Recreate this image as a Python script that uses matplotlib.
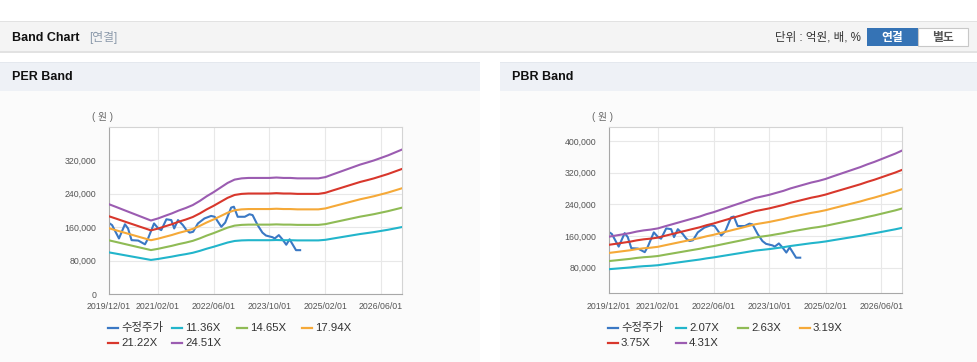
import pandas as pd
import matplotlib
matplotlib.use('Agg')
import matplotlib.pyplot as plt
from matplotlib.patches import Rectangle
from matplotlib.lines import Line2D
from matplotlib.ticker import FuncFormatter

plt.rcParams['font.family'] = ['Liberation Sans', 'Noto Sans CJK KR']

W, H = 978, 362

# band sample dates (every 2 months) and per-share values
band_dates = pd.date_range('2019-12-01', '2026-12-01', freq='2MS')
eps = [8772, 8507, 8242, 7976, 7711, 7446, 7181, 7385, 7630, 7874,
       8160, 8405, 8690, 9098, 9547, 9955, 10404, 10853, 11179, 11301,
       11342, 11342, 11342, 11342, 11383, 11342, 11342, 11301, 11301, 11301,
       11301, 11424, 11669, 11913, 12158, 12403, 12648, 12852, 13056, 13301,
       13546, 13831, 14117]
bps = [36660, 37350, 38050, 38750, 39680, 40370, 40840, 41530, 42690, 43850,
       45010, 46170, 47330, 48490, 49880, 51040, 52440, 53830, 55220, 56610,
       58000, 59400, 60320, 61250, 62410, 63570, 64970, 66130, 67290, 68450,
       69370, 70530, 71930, 73320, 74710, 76100, 77490, 79120, 80510, 82130,
       83760, 85380, 87240]
per_multiples = [11.36, 14.65, 17.94, 21.22, 24.51]
pbr_multiples = [2.07, 2.63, 3.19, 3.75, 4.31]
per_labels = ['11.36X', '14.65X', '17.94X', '21.22X', '24.51X']
pbr_labels = ['2.07X', '2.63X', '3.19X', '3.75X', '4.31X']

# adjusted price (수정주가)
price_dates = ['2019-12-01', '2019-12-28', '2020-02-26', '2020-04-18', '2020-05-15',
               '2020-06-15', '2020-08-12', '2020-10-10', '2020-11-06', '2020-12-28',
               '2021-02-03', '2021-03-01', '2021-04-15', '2021-05-28', '2021-06-22',
               '2021-07-25', '2021-09-06', '2021-10-07', '2021-11-04', '2021-12-04',
               '2022-01-15', '2022-03-13', '2022-05-10', '2022-06-10', '2022-08-07',
               '2022-09-10', '2022-11-01', '2022-11-25', '2022-12-28', '2023-02-28',
               '2023-04-10', '2023-05-07', '2023-06-20', '2023-08-01', '2023-09-01',
               '2023-10-28', '2023-11-16', '2023-12-22', '2024-01-22', '2024-02-25',
               '2024-03-25', '2024-05-20', '2024-06-25']
price_values = [170000, 165000, 133000, 167000, 157000,
                129000, 128000, 119000, 133000, 169000,
                157000, 153000, 179000, 177000, 157000,
                177000, 165000, 153000, 147000, 149000,
                169000, 181000, 187000, 185000, 161000,
                171000, 207000, 209000, 185000, 185000,
                191000, 189000, 165000, 147000, 140000,
                136000, 133000, 141000, 131000, 118000,
                131000, 105000, 105000]

xtick_dates = ['2019-12-01', '2021-02-01', '2022-06-01', '2023-10-01', '2025-02-01', '2026-06-01']
xtick_labels = ['2019/12/01', '2021/02/01', '2022/06/01', '2023/10/01', '2025/02/01', '2026/06/01']

price_color = '#3a78c4'
band_colors = ['#22b5cb', '#8fbb55', '#f5a938', '#d8372c', '#9b5cb1']


def fx(px):
    return px / W


def fy(py):
    return 1 - py / H


def box(fig, x0, y0, x1, y1, color, edge='none', lw=0):
    # background blocks sit under the chart axes
    fig.add_artist(Rectangle((fx(x0), fy(y1)), (x1 - x0) / W, (y1 - y0) / H,
                             transform=fig.transFigure, facecolor=color,
                             edgecolor=edge, linewidth=lw, zorder=-5))


def draw_band(fig, rect, per_share, multiples, labels, ylim, yticks, legend_x):
    ax = fig.add_axes(rect)
    ax.set_zorder(5)
    ax.set_facecolor('white')
    ax.plot(pd.to_datetime(price_dates), price_values, color=price_color, lw=1.5, zorder=2)
    for m, c in zip(multiples, band_colors):
        ax.plot(band_dates, [v * m for v in per_share], color=c, lw=1.5, zorder=3)

    ax.set_xlim(pd.Timestamp('2019-12-01'), pd.Timestamp('2026-12-01'))
    ax.set_ylim(*ylim)
    ax.set_xticks(pd.to_datetime(xtick_dates))
    ax.set_xticklabels(xtick_labels)
    ax.set_yticks(yticks)
    ax.yaxis.set_major_formatter(FuncFormatter(lambda v, p: f'{v:,.0f}'))
    ax.tick_params(length=0, labelsize=6.3, colors='#555555')
    ax.tick_params(axis='y', pad=9)
    ax.tick_params(axis='x', pad=6)
    ax.grid(True, color='#e8e8e8', lw=0.8)
    ax.set_axisbelow(True)
    for s in ['left', 'bottom']:
        ax.spines[s].set_color('#a8a8a8')
    for s in ['top', 'right']:
        ax.spines[s].set_color('#d4d4d4')

    # unit label
    fig.text(fx(legend_x[0] - 5), fy(117), '( 원 )', fontsize=7, color='#666666',
             ha='center', va='center')

    # legend, laid out like the original (4 per row)
    names = ['수정주가'] + labels
    colors = [price_color] + band_colors
    for i, (name, c) in enumerate(zip(names, colors)):
        col, row = i % 4, i // 4
        x = legend_x[col]
        y = [328, 343][row]
        fig.add_artist(Line2D([fx(x), fx(x + 10)], [fy(y), fy(y)], transform=fig.transFigure,
                              color=c, lw=1.6))
        fig.text(fx(x + 13), fy(y), name, fontsize=8.2, color='#333333', va='center', ha='left')
    return ax


fig = plt.figure(figsize=(W / 100, H / 100), dpi=100)
fig.patch.set_facecolor('white')

# top toolbar
box(fig, 0, 21, W, 53, '#e2e2e2')
box(fig, 0, 22, W, 51, '#f4f4f4')
fig.text(fx(12), fy(38), 'Band Chart', fontsize=9, fontweight='bold', color='#111111', va='center')
fig.text(fx(89), fy(38), '[연결]', fontsize=8.5, color='#8c9aab', va='center')
fig.text(fx(861), fy(38), '단위 : 억원, 배, %', fontsize=8.3, color='#333333', va='center', ha='right')
box(fig, 867, 28, 918, 46, '#3573b5')
box(fig, 918, 28, 968, 46, 'white', edge='#c8c8c8', lw=0.8)
fig.text(fx(892.5), fy(37.5), '연결', fontsize=8.5, fontweight='bold', color='white', va='center', ha='center')
fig.text(fx(943), fy(37.5), '별도', fontsize=8.5, fontweight='bold', color='#555555', va='center', ha='center')

# panels
for x0, x1, title in [(0, 480, 'PER Band'), (500, W, 'PBR Band')]:
    box(fig, x0, 91, x1, H, '#fbfbfb')
    box(fig, x0, 62, x1, 91, '#eef1f6')
    box(fig, x0, 62, x1, 63, '#e4e8ee')
    fig.text(fx(x0 + 12), fy(77), title, fontsize=9, fontweight='bold', color='#111111', va='center')

draw_band(fig, [fx(109), fy(294), 293 / W, 167 / H], eps, per_multiples, per_labels,
          (0, 400000), [0, 80000, 160000, 240000, 320000], [108, 172, 237, 302])
draw_band(fig, [fx(608.7), fy(293.3), 293.6 / W, 166.6 / H], bps, pbr_multiples, pbr_labels,
          (15000, 436000), [80000, 160000, 240000, 320000, 400000], [608, 676, 738, 800])

fig.savefig('out.png', dpi=100)
